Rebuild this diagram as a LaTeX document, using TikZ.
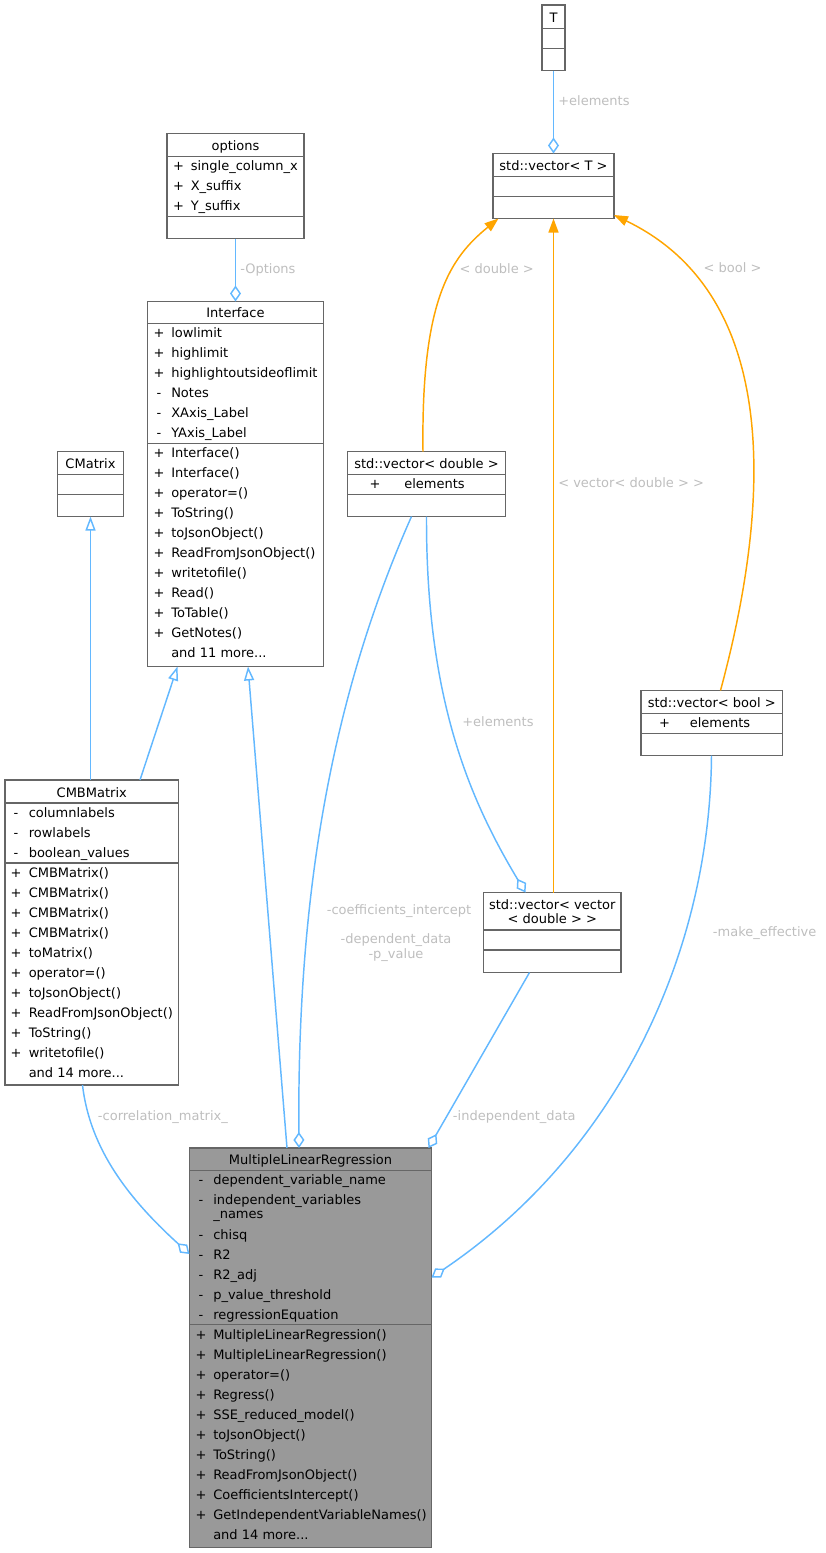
\documentclass[tikz,border=0pt]{standalone}
\usepackage{fontspec}
\setmainfont{DejaVu Sans}
\usetikzlibrary{arrows.meta}
\usetikzlibrary{fit}
\definecolor{edgeblue}{HTML}{63B8FF}
\definecolor{tmplorange}{HTML}{FFA500}
\definecolor{boxgrey}{HTML}{666666}
\definecolor{lblgrey}{HTML}{BEBEBE}
\definecolor{mainfill}{HTML}{999999}

\begin{document}
\begin{tikzpicture}[x=0.75pt,y=-0.75pt,font=\fontsize{9.75}{12}\selectfont,
  box/.style={draw=boxgrey,fill=white,line width=0.8pt,inner sep=0pt,outer sep=0pt},
  sep/.style={draw=boxgrey,line width=0.8pt},
  ttl/.style={anchor=base,inner sep=0pt},
  sym/.style={anchor=base,inner sep=0pt},
  mem/.style={anchor=base west,inner sep=0pt},
  lbl/.style={anchor=base west,inner sep=0pt,text=lblgrey},
  agg/.style={draw=edgeblue,line width=1.1pt,-{Diamond[open,length=12pt,width=8.25pt]}},
  inh/.style={draw=edgeblue,line width=1.1pt,-{Triangle[open,length=10.5pt,width=7.5pt]}},
  tmpl/.style={draw=tmplorange,line width=1.1pt,-{Triangle[length=10.5pt,width=7.5pt,fill=tmplorange]}}]
\useasboundingbox (0,0) rectangle (825,1553);

\node[box,fit={(542,5) (565,70.5)}] (t) {};
\draw[sep] (t.west |- 0,28.5) -- (t.east |- 0,28.5);
\draw[sep] (t.west |- 0,48.5) -- (t.east |- 0,48.5);
\node[ttl] (t-name) at (t.north |- 0,22) {T};

\node[box,fit={(493,153.5) (614,218.5)}] (vect) {};
\draw[sep] (vect.west |- 0,176.5) -- (vect.east |- 0,176.5);
\draw[sep] (vect.west |- 0,196.5) -- (vect.east |- 0,196.5);
\node[ttl] (vect-name) at (vect.north |- 0,170) {std::vector< T >};

\node[box,fit={(167,133.5) (304,238.5)}] (options) {};
\draw[sep] (options.west |- 0,156.5) -- (options.east |- 0,156.5);
\draw[sep] (options.west |- 0,216.5) -- (options.east |- 0,216.5);
\node[ttl] (options-name) at (options.north |- 0,150.5) {options};
\node[sym] (options-s1) at (178.5,170.5) {+}; \node[mem] (options-m1) at (190.5,170.5) {single\_column\_x};
\node[sym] (options-s2) at (178.5,190.5) {+}; \node[mem] (options-m2) at (190.5,190.5) {X\_suffix};
\node[sym] (options-s3) at (178.5,210.5) {+}; \node[mem] (options-m3) at (190.5,210.5) {Y\_suffix};

\node[box,fit={(147.5,301.5) (323.5,666.5)}] (iface) {};
\draw[sep] (iface.west |- 0,323.5) -- (iface.east |- 0,323.5);
\draw[sep] (iface.west |- 0,443.5) -- (iface.east |- 0,443.5);
\node[ttl] (iface-name) at (iface.north |- 0,317.2) {Interface};
\node[sym] (iface-s1) at (159,337.5) {+}; \node[mem] (iface-m1) at (171,337.5) {lowlimit};
\node[sym] (iface-s2) at (159,357.5) {+}; \node[mem] (iface-m2) at (171,357.5) {highlimit};
\node[sym] (iface-s3) at (159,377.5) {+}; \node[mem] (iface-m3) at (171,377.5) {highlightoutsideoflimit};
\node[sym] (iface-s4) at (159,397.5) {-}; \node[mem] (iface-m4) at (171,397.5) {Notes};
\node[sym] (iface-s5) at (159,417.5) {-}; \node[mem] (iface-m5) at (171,417.5) {XAxis\_Label};
\node[sym] (iface-s6) at (159,437.5) {-}; \node[mem] (iface-m6) at (171,437.5) {YAxis\_Label};
\node[sym] (iface-f1) at (159,457.5) {+}; \node[mem] (iface-o1) at (171,457.5) {Interface()};
\node[sym] (iface-f2) at (159,477.5) {+}; \node[mem] (iface-o2) at (171,477.5) {Interface()};
\node[sym] (iface-f3) at (159,497.5) {+}; \node[mem] (iface-o3) at (171,497.5) {operator=()};
\node[sym] (iface-f4) at (159,517.5) {+}; \node[mem] (iface-o4) at (171,517.5) {ToString()};
\node[sym] (iface-f5) at (159,537.5) {+}; \node[mem] (iface-o5) at (171,537.5) {toJsonObject()};
\node[sym] (iface-f6) at (159,557.5) {+}; \node[mem] (iface-o6) at (171,557.5) {ReadFromJsonObject()};
\node[sym] (iface-f7) at (159,577.5) {+}; \node[mem] (iface-o7) at (171,577.5) {writetofile()};
\node[sym] (iface-f8) at (159,597.5) {+}; \node[mem] (iface-o8) at (171,597.5) {Read()};
\node[sym] (iface-f9) at (159,617.5) {+}; \node[mem] (iface-o9) at (171,617.5) {ToTable()};
\node[sym] (iface-f10) at (159,637.5) {+}; \node[mem] (iface-o10) at (171,637.5) {GetNotes()};
\node[mem] (iface-more) at (171,657.5) {and 11 more...};

\node[box,fit={(57.5,451.5) (123.5,516.5)}] (cmatrix) {};
\draw[sep] (cmatrix.west |- 0,474.5) -- (cmatrix.east |- 0,474.5);
\draw[sep] (cmatrix.west |- 0,494.5) -- (cmatrix.east |- 0,494.5);
\node[ttl] (cmatrix-name) at (cmatrix.north |- 0,468) {CMatrix};

\node[box,fit={(347.5,451.5) (505.5,516.5)}] (vecd) {};
\draw[sep] (vecd.west |- 0,474.5) -- (vecd.east |- 0,474.5);
\draw[sep] (vecd.west |- 0,494.5) -- (vecd.east |- 0,494.5);
\node[ttl] (vecd-name) at (vecd.north |- 0,468) {std::vector< double >};
\node[sym] (vecd-s1) at (375,488) {+}; \node[mem] (vecd-m1) at (404,488) {elements};

\node[box,fit={(641,690.5) (782.5,755.5)}] (vecb) {};
\draw[sep] (vecb.west |- 0,713.5) -- (vecb.east |- 0,713.5);
\draw[sep] (vecb.west |- 0,733.5) -- (vecb.east |- 0,733.5);
\node[ttl] (vecb-name) at (vecb.north |- 0,707.2) {std::vector< bool >};
\node[sym] (vecb-s1) at (664.5,727.4) {+}; \node[mem] (vecb-m1) at (689.5,727.4) {elements};

\node[box,fit={(5,780) (178.5,1085)}] (cmb) {};
\draw[sep] (cmb.west |- 0,803) -- (cmb.east |- 0,803);
\draw[sep] (cmb.west |- 0,863) -- (cmb.east |- 0,863);
\node[ttl] (cmb-name) at (cmb.north |- 0,797) {CMBMatrix};
\node[sym] (cmb-s1) at (16,817) {-}; \node[mem] (cmb-m1) at (28.5,817) {columnlabels};
\node[sym] (cmb-s2) at (16,837) {-}; \node[mem] (cmb-m2) at (28.5,837) {rowlabels};
\node[sym] (cmb-s3) at (16,857) {-}; \node[mem] (cmb-m3) at (28.5,857) {boolean\_values};
\node[sym] (cmb-f1) at (16,877) {+}; \node[mem] (cmb-o1) at (28.5,877) {CMBMatrix()};
\node[sym] (cmb-f2) at (16,897) {+}; \node[mem] (cmb-o2) at (28.5,897) {CMBMatrix()};
\node[sym] (cmb-f3) at (16,917) {+}; \node[mem] (cmb-o3) at (28.5,917) {CMBMatrix()};
\node[sym] (cmb-f4) at (16,937) {+}; \node[mem] (cmb-o4) at (28.5,937) {CMBMatrix()};
\node[sym] (cmb-f5) at (16,957) {+}; \node[mem] (cmb-o5) at (28.5,957) {toMatrix()};
\node[sym] (cmb-f6) at (16,977) {+}; \node[mem] (cmb-o6) at (28.5,977) {operator=()};
\node[sym] (cmb-f7) at (16,997) {+}; \node[mem] (cmb-o7) at (28.5,997) {toJsonObject()};
\node[sym] (cmb-f8) at (16,1017) {+}; \node[mem] (cmb-o8) at (28.5,1017) {ReadFromJsonObject()};
\node[sym] (cmb-f9) at (16,1037) {+}; \node[mem] (cmb-o9) at (28.5,1037) {ToString()};
\node[sym] (cmb-f10) at (16,1057) {+}; \node[mem] (cmb-o10) at (28.5,1057) {writetofile()};
\node[mem] (cmb-more) at (28.5,1077) {and 14 more...};

\node[box,fit={(483.5,892.5) (621,972.5)}] (vvd) {};
\draw[sep] (vvd.west |- 0,930) -- (vvd.east |- 0,930);
\draw[sep] (vvd.west |- 0,950) -- (vvd.east |- 0,950);
\node[ttl] (vvd-name1) at (vvd.north |- 0,909) {std::vector< vector};
\node[ttl] (vvd-name2) at (vvd.north |- 0,923) {< double > >};

\node[box,fill=mainfill,fit={(189.5,1148) (431.5,1547.5)}] (mlr) {};
\draw[sep] (mlr.west |- 0,1170.5) -- (mlr.east |- 0,1170.5);
\draw[sep] (mlr.west |- 0,1324.5) -- (mlr.east |- 0,1324.5);
\node[ttl] (mlr-name) at (mlr.north |- 0,1164) {MultipleLinearRegression};
\node[sym] (mlr-s1) at (201,1184) {-}; \node[mem] (mlr-m1) at (213,1184) {dependent\_variable\_name};
\node[sym] (mlr-s2) at (201,1204) {-}; \node[mem] (mlr-m2) at (213,1204) {independent\_variables};
\node[mem] (mlr-m2b) at (213,1218.7) {\_names};
\node[sym] (mlr-s3) at (201,1239) {-}; \node[mem] (mlr-m3) at (213,1239) {chisq};
\node[sym] (mlr-s4) at (201,1259) {-}; \node[mem] (mlr-m4) at (213,1259) {R2};
\node[sym] (mlr-s5) at (201,1279) {-}; \node[mem] (mlr-m5) at (213,1279) {R2\_adj};
\node[sym] (mlr-s6) at (201,1299) {-}; \node[mem] (mlr-m6) at (213,1299) {p\_value\_threshold};
\node[sym] (mlr-s7) at (201,1319) {-}; \node[mem] (mlr-m7) at (213,1319) {regressionEquation};
\node[sym] (mlr-f1) at (201,1339) {+}; \node[mem] (mlr-o1) at (213,1339) {MultipleLinearRegression()};
\node[sym] (mlr-f2) at (201,1359) {+}; \node[mem] (mlr-o2) at (213,1359) {MultipleLinearRegression()};
\node[sym] (mlr-f3) at (201,1379) {+}; \node[mem] (mlr-o3) at (213,1379) {operator=()};
\node[sym] (mlr-f4) at (201,1399) {+}; \node[mem] (mlr-o4) at (213,1399) {Regress()};
\node[sym] (mlr-f5) at (201,1419) {+}; \node[mem] (mlr-o5) at (213,1419) {SSE\_reduced\_model()};
\node[sym] (mlr-f6) at (201,1439) {+}; \node[mem] (mlr-o6) at (213,1439) {toJsonObject()};
\node[sym] (mlr-f7) at (201,1459) {+}; \node[mem] (mlr-o7) at (213,1459) {ToString()};
\node[sym] (mlr-f8) at (201,1479) {+}; \node[mem] (mlr-o8) at (213,1479) {ReadFromJsonObject()};
\node[sym] (mlr-f9) at (201,1499) {+}; \node[mem] (mlr-o9) at (213,1499) {CoefficientsIntercept()};
\node[sym] (mlr-f10) at (201,1519) {+}; \node[mem] (mlr-o10) at (213,1519) {GetIndependentVariableNames()};
\node[mem] (mlr-more) at (213,1539) {and 14 more...};

\draw[agg] (t) -- (vect);
\draw[agg] (options) -- (iface);
\draw[inh] (cmb.north -| cmatrix.south) -- (cmatrix.south);
\draw[inh] (cmb.north -| 140,0) -- (iface.south -| 177.5,0);
\draw[inh] (mlr.north -| 287,0) -- (iface.south -| 248,0);
\draw[agg] (vecd.south -| 411.5,0) .. controls (330,700) and (297,900) .. (mlr.north -| 299,0);
\draw[agg] (vecd.south) .. controls (426,700) and (470,800) .. (vvd.north -| 525.5,0);
\draw[agg] (vvd.south -| 529.5,0) -- (mlr.north -| 428.5,0);
\draw[agg] (cmb.south -| 82.5,0) .. controls (90,1150) and (130,1200) .. (mlr.west |- 0,1254);
\draw[agg] (vecb.south -| 711.5,0) .. controls (710,950) and (620,1150) .. (mlr.east |- 0,1277.5);
\draw[tmpl] (vecd.north -| 423,0) .. controls (421,300) and (450,258) .. (vect.south -| 498.5,0);
\draw[tmpl] (vvd.north -| 553.5,0) -- (vect.south -| 553.5,0);
\draw[tmpl] (vecb.north -| 720.5,0) .. controls (772,500) and (780,295) .. (vect.east |- 0,215);

\node[lbl] (lbl-telem) at (558,105.4) {+elements};
\node[lbl] (lbl-opt) at (240,273.4) {-Options};
\node[lbl,anchor=base] (lbl-dbl) at (496.7,273.4) {< double >};
\node[lbl,anchor=base] (lbl-bool) at (732.5,272.7) {< bool >};
\node[lbl] (lbl-vvd) at (558,487.4) {< vector< double > >};
\node[lbl] (lbl-delem) at (462,726.7) {+elements};
\node[lbl,anchor=base] (lbl-coef) at (399,914) {-coefficients\_intercept};
\node[lbl,anchor=base] (lbl-dep) at (396,943) {-dependent\_data};
\node[lbl,anchor=base] (lbl-pval) at (396,958) {-p\_value};
\node[lbl] (lbl-make) at (712.7,936.4) {-make\_effective};
\node[lbl] (lbl-corr) at (97.7,1120.4) {-correlation\_matrix\_};
\node[lbl] (lbl-indep) at (452.7,1120.4) {-independent\_data};

\end{tikzpicture}
\end{document}
